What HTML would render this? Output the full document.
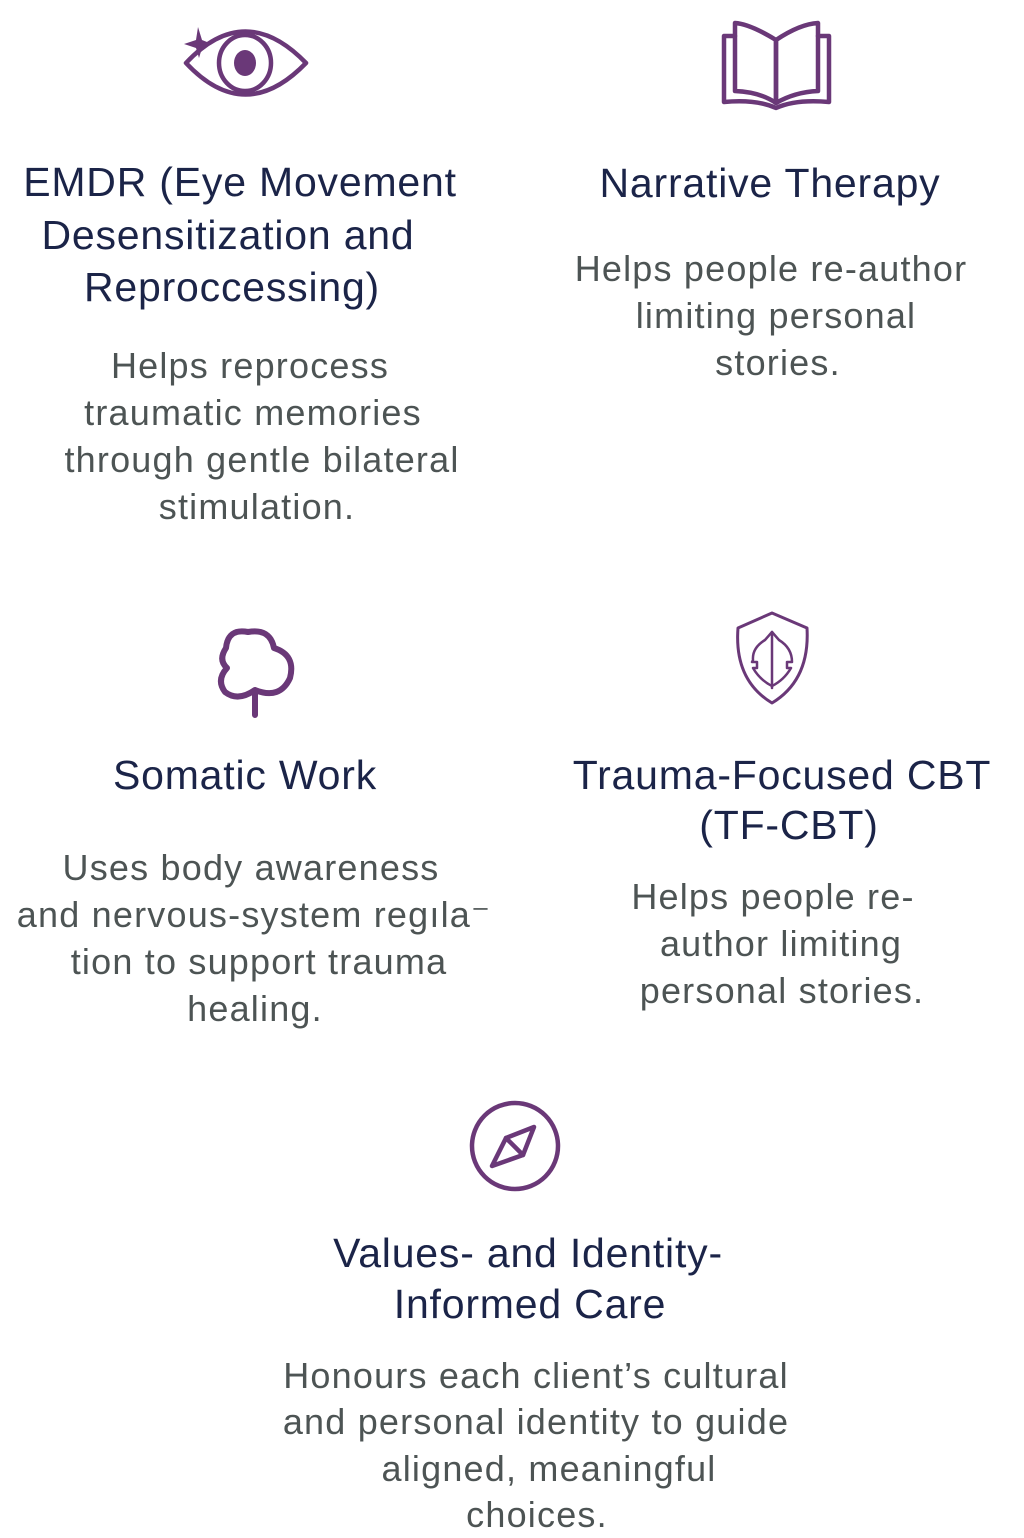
<!DOCTYPE html>
<html><head><meta charset="utf-8"><style>
html,body{margin:0;padding:0;background:#fff;}
body{width:1024px;height:1536px;position:relative;overflow:hidden;font-family:"Liberation Sans",sans-serif;}
.t,.d{position:absolute;width:800px;text-align:center;white-space:nowrap;}
.t{font-size:41px;line-height:52px;color:#1b2448;letter-spacing:0.8px;}
.d{font-size:36px;line-height:47px;color:#4d5454;letter-spacing:1.2px;}
svg{position:absolute;left:0;top:0;}
</style></head><body>
<svg width="1024" height="1536" fill="none" stroke="#6a3878" stroke-width="4.5" stroke-linejoin="round" stroke-linecap="round">
<path d="M186 63 Q245 0 306 63 Q245 126 186 63 Z"/>
<ellipse cx="245" cy="63" rx="26" ry="28"/>
<ellipse cx="245" cy="63" rx="11" ry="13" fill="#6a3878" stroke="none"/>
<path d="M198 27 L202 40 L212 44 L202 48 L199 58 L196 48 L184 44 L196 40 Z" fill="#6a3878" stroke="none"/>
<path d="M776 40 Q750 24 735 23 L735 91 Q760 92 776 103 Z"/>
<path d="M776 40 Q800 24 818 23 L818 91 Q795 92 776 103 Z"/>
<path d="M735 36 L724 36 L724 102 Q756 99 776 108 Q796 99 829 102 L829 36 L818 36"/>
<path d="M255 715 L255 690 Q280 700 290 678 Q296 655 274 648 Q270 628 248 632 Q228 628 226 648 Q218 660 227 668 Q216 680 225 692 Q238 702 255 690" stroke-width="6"/>
<path d="M772 613 L807 628 Q810 680 772 703 Q734 680 738 628 Z" stroke-width="3"/>
<path d="M772 632 L765 640 Q752 648 753 660 L752 662 L757 662 L757 668 L753 668 Q760 680 772 686 Q784 680 791 668 L787 668 L787 662 L792 662 Q792 648 779 640 Z" stroke-width="2.5"/>
<path d="M772 632 L772 688" stroke-width="2.5"/>
<circle cx="515" cy="1146" r="43"/>
<path d="M534 1127 L523 1155 L492 1166 L506 1138 Z"/>
<path d="M506 1138 L523 1155"/>
</svg>

<div class="t" style="left:-160px;top:156px">EMDR (Eye Movement</div>
<div class="t" style="left:-172px;top:209px">Desensitization and</div>
<div class="t" style="left:-168px;top:261px">Reproccessing)</div>
<div class="d" style="left:-150px;top:342px">Helps reprocess</div>
<div class="d" style="left:-147px;top:389px">traumatic memories</div>
<div class="d" style="left:-138px;top:436px">through gentle bilateral</div>
<div class="d" style="left:-143px;top:483px">stimulation.</div>

<div class="t" style="left:370px;top:157px">Narrative Therapy</div>
<div class="d" style="left:371px;top:245px">Helps people re-author</div>
<div class="d" style="left:376px;top:292px">limiting personal</div>
<div class="d" style="left:378px;top:339px">stories.</div>

<div class="t" style="left:-155px;top:749px">Somatic Work</div>
<div class="d" style="left:-149px;top:844px">Uses body awareness</div>
<div class="d" style="left:-146px;top:891px">and nervous-system regıla⁻</div>
<div class="d" style="left:-141px;top:938px">tion to support trauma</div>
<div class="d" style="left:-145px;top:985px">healing.</div>

<div class="t" style="left:382px;top:749px">Trauma-Focused CBT</div>
<div class="t" style="left:389px;top:799px">(TF-CBT)</div>
<div class="d" style="left:373px;top:873px">Helps people re-</div>
<div class="d" style="left:381px;top:920px">author limiting</div>
<div class="d" style="left:382px;top:967px">personal stories.</div>

<div class="t" style="left:128px;top:1227px">Values- and Identity-</div>
<div class="t" style="left:130px;top:1278px">Informed Care</div>
<div class="d" style="left:136px;top:1352px">Honours each client’s cultural</div>
<div class="d" style="left:136px;top:1398px">and personal identity to guide</div>
<div class="d" style="left:149px;top:1445px">aligned, meaningful</div>
<div class="d" style="left:137px;top:1491px">choices.</div>
</body></html>
